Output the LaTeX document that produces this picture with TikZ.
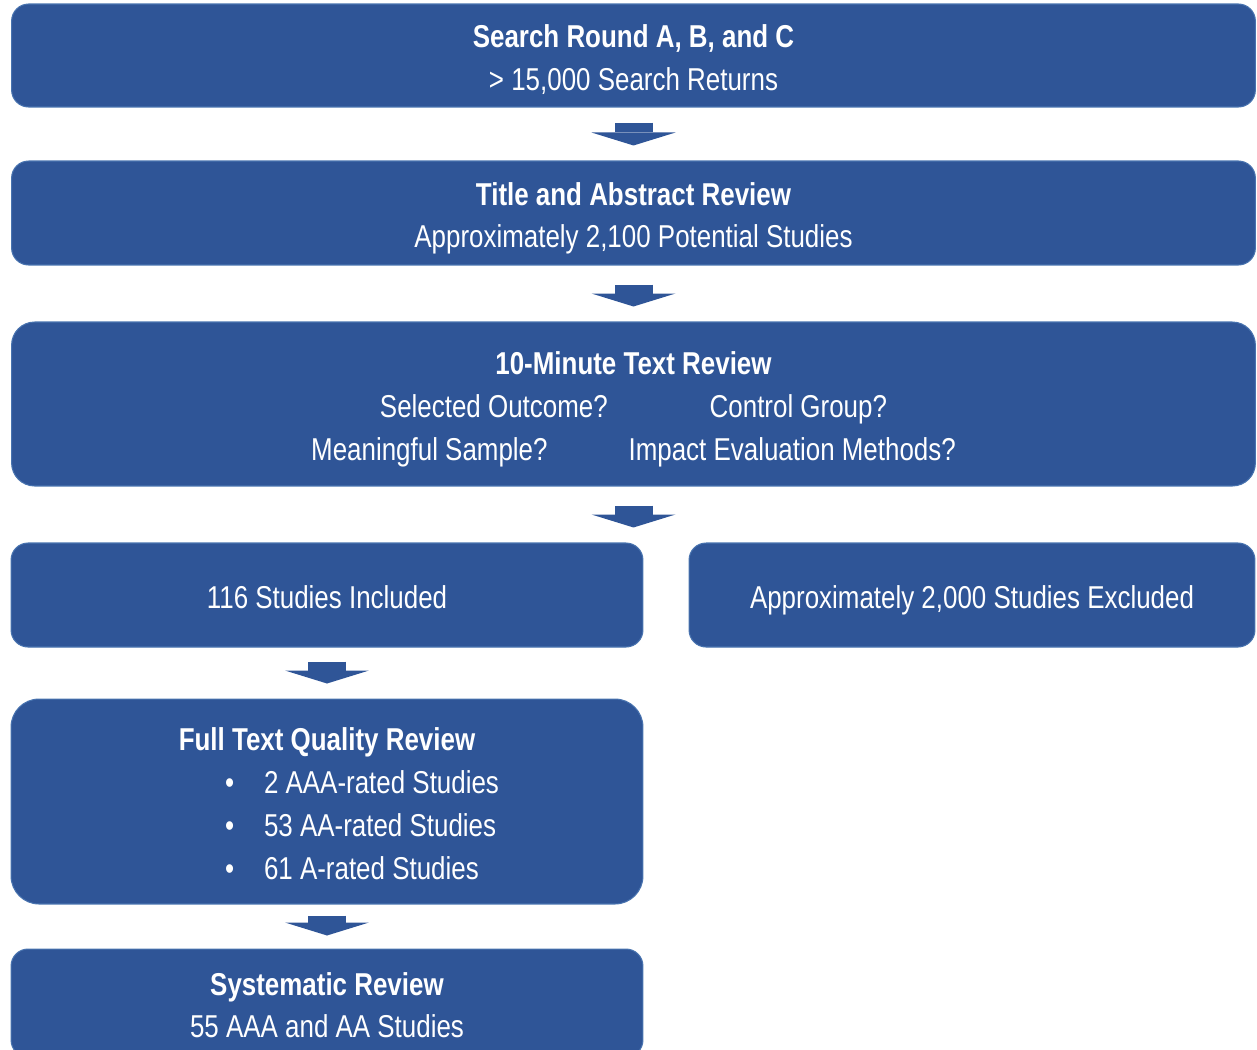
\documentclass[tikz,border=0pt]{standalone}
\usepackage{fontspec}
\setmainfont{Liberation Sans}[FakeStretch=0.82]
\usetikzlibrary{arrows.meta}
\definecolor{bleu}{RGB}{47,85,151}
\definecolor{bord}{RGB}{72,115,175}
\newcommand{\haut}{\rule{0pt}{20pt}}
\newcommand{\bas}{\rule[-4.6pt]{0pt}{0pt}}
\begin{document}
\begin{tikzpicture}[x=0.02cm,y=-0.02cm]
			\tikzstyle{boite}=[rectangle,rounded corners=0.34cm,fill=bleu,draw=bord,line width=0.6pt,text=white,align=center,font=\fontsize{18}{24.4}\selectfont,inner sep=0pt]
			\tikzstyle{fleche}=[draw=bleu,line width=0.76cm,-{Triangle[width=1.68cm,length=0.26cm,line width=0pt]},shorten >=0.3cm]
			\def\LargeurPleine{24.88cm}
			\def\LargeurDemi{12.64cm}
			\def\ColonneA{633.5}
			\def\ColonneB{327}
			\def\ColonneC{972}
			\useasboundingbox (0,0) rectangle (1257,1049);
			\node[boite,minimum width=\LargeurPleine,minimum height=2.06cm] (S) at (\ColonneA,55.5) {\haut\textbf{Search Round A, B, and C}\\> 15,000 Search Returns\bas};
			\node[boite,minimum width=\LargeurPleine,minimum height=2.08cm] (T) at (\ColonneA,213) {\haut\textbf{Title and Abstract Review}\\Approximately 2,100 Potential Studies\bas};
			\node[boite,minimum width=\LargeurPleine,minimum height=3.28cm,rounded corners=0.46cm] (M) at (\ColonneA,404) {\haut\textbf{10-Minute Text Review}\\Selected Outcome?\hspace{2.04cm}Control Group?\\Meaningful Sample?\hspace{1.62cm}Impact Evaluation Methods?\bas};
			\node[boite,minimum width=\LargeurDemi,minimum height=2.08cm] (I) at (\ColonneB,595) {\haut 116 Studies Included\bas};
			\node[boite,minimum width=11.32cm,minimum height=2.08cm] (E) at (\ColonneC,595) {\haut Approximately 2,000 Studies Excluded\bas};
			\node[boite,minimum width=\LargeurDemi,minimum height=4.10cm,rounded corners=0.56cm] (Q) at (\ColonneB,801.5) {\haut\textbf{Full Text Quality Review}\\
				\makebox[4.08cm][l]{\makebox[0.78cm][l]{\textbullet}2 AAA-rated Studies}\\
				\makebox[4.08cm][l]{\makebox[0.78cm][l]{\textbullet}53 AA-rated Studies}\\
				\makebox[4.08cm][l]{\makebox[0.78cm][l]{\textbullet}61 A-rated Studies}\bas};
			\node[boite,minimum width=\LargeurDemi,minimum height=2.16cm] (R) at (\ColonneB,1003) {\haut\textbf{Systematic Review}\\55 AAA and AA Studies\bas};
			\draw[fleche,shorten <=0.3cm] (S.south) -- (T.north);
			\draw[fleche,shorten <=0.38cm] (T.south) -- (M.north);
			\draw[fleche,shorten <=0.38cm] (M.south) -- (M.south|-I.north);
			\draw[fleche,shorten <=0.28cm] (I.south) -- (Q.north);
			\draw[fleche,shorten <=0.22cm,shorten >=0.26cm] (Q.south) -- (R.north);
		\end{tikzpicture}
\end{document}
